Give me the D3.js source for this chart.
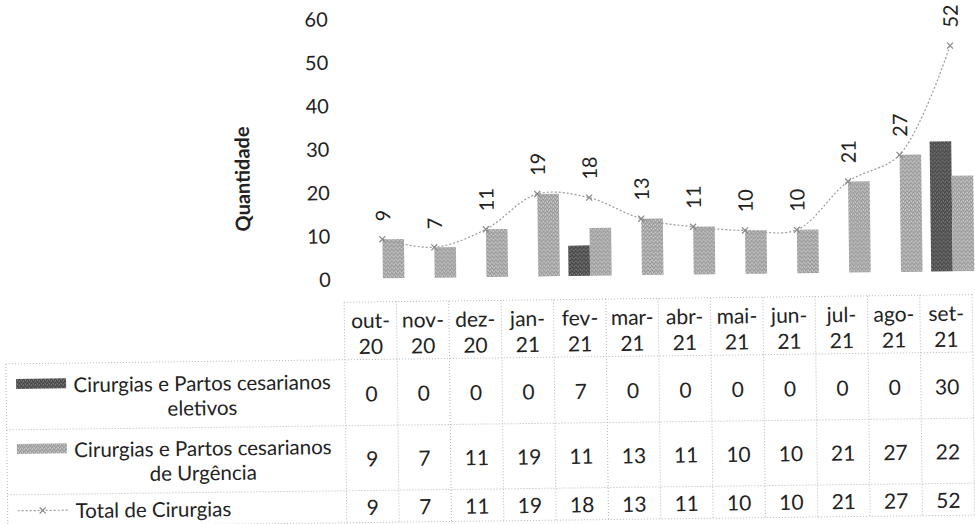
<!DOCTYPE html>
<html lang="pt">
<head>
<meta charset="utf-8">
<script src="https://d3js.org/d3.v7.min.js"></script>
<style>
  body { margin: 0; background: #fff; }
  svg text { font-family: Lato, "Noto Sans", sans-serif; fill: #222; }
</style>
</head>
<body>
<script>
// data
const months   = ["out-20", "nov-20", "dez-20", "jan-21", "fev-21", "mar-21",
                  "abr-21", "mai-21", "jun-21", "jul-21", "ago-21", "set-21"];
const eletivos = [0, 0, 0, 0, 7, 0, 0, 0, 0, 0, 0, 30];
const urgencia = [9, 7, 11, 19, 11, 13, 11, 10, 10, 21, 27, 22];
const total    = [9, 7, 11, 19, 18, 13, 11, 10, 10, 21, 27, 52];
const seriesLabels = [
  ["Cirurgias e Partos cesarianos", "eletivos"],
  ["Cirurgias e Partos cesarianos", "de Urgência"],
  ["Total de Cirurgias"]
];
const yTicks = [0, 10, 20, 30, 40, 50, 60];
const yTitle = "Quantidade";

const W = 975, H = 524;
const fs = 21;

const svg = d3.select("body").append("svg")
  .attr("width", W).attr("height", H);

// textures like the scanned bars
const defs = svg.append("defs");
function pattern(id, base, dark, light) {
  const p = defs.append("pattern").attr("id", id)
    .attr("width", 4).attr("height", 4).attr("patternUnits", "userSpaceOnUse");
  p.append("rect").attr("width", 4).attr("height", 4).attr("fill", base);
  [[0, 0], [2, 1], [1, 2], [3, 3]].forEach(function(d) {
    p.append("rect").attr("x", d[0]).attr("y", d[1]).attr("width", 1).attr("height", 1).attr("fill", dark);
  });
  [[2, 3], [0, 2]].forEach(function(d) {
    p.append("rect").attr("x", d[0]).attr("y", d[1]).attr("width", 1).attr("height", 1).attr("fill", light);
  });
}
pattern("pElet", "#5e5e5e", "#333", "#8a8a8a");
pattern("pUrg", "#b0b0b0", "#8a8a8a", "#d8d8d8");
const fills = ["url(#pElet)", "url(#pUrg)"];

// the scan is slightly tilted
const g = svg.append("g").attr("transform", "rotate(-0.7, 488, 290)");

// scales
const x = d3.scaleBand().domain(months).range([357.1, 978.9]).padding(0);
const xSub = d3.scaleBand().domain([0, 1]).range([0, x.bandwidth()]).paddingOuter(0.2);
const y = d3.scaleLinear().domain([0, 60]).range([277, 16.6]);
const xT = d3.scaleBand().domain(months).range([344, 972]);

// y axis labels
g.append("g").selectAll("text").data(yTicks).join("text")
  .attr("x", 331).attr("y", d => y(d))
  .attr("text-anchor", "end").attr("dominant-baseline", "central")
  .style("font-size", "20px")
  .text(d => d);

g.append("text")
  .attr("transform", "translate(243,176) rotate(-90)")
  .attr("text-anchor", "middle").attr("dominant-baseline", "central")
  .style("font-size", "20px").style("font-weight", "bold")
  .text(yTitle);

// bars
const barData = [];
months.forEach(function(m, i) {
  barData.push({m: m, s: 0, v: eletivos[i]});
  barData.push({m: m, s: 1, v: urgencia[i]});
});
g.append("g").selectAll("rect").data(barData.filter(d => d.v > 0)).join("rect")
  .attr("x", d => x(d.m) + xSub(d.s))
  .attr("y", d => y(d.v))
  .attr("width", xSub.bandwidth())
  .attr("height", d => y(0) - y(d.v))
  .attr("fill", d => fills[d.s]);

// total line
const cx = m => x(m) + x.bandwidth() / 2;
const line = d3.line()
  .x((d, i) => cx(months[i]))
  .y(d => y(d))
  .curve(d3.curveCatmullRom.alpha(0.5));
g.append("path").datum(total)
  .attr("d", line)
  .attr("fill", "none").attr("stroke", "#9a9a9a")
  .attr("stroke-width", 1.2).attr("stroke-dasharray", "2,2");

function cross(sel, px, py) {
  sel.append("path")
    .attr("d", `M${px-3},${py-3}L${px+3},${py+3}M${px-3},${py+3}L${px+3},${py-3}`)
    .attr("stroke", "#888").attr("stroke-width", 1.2);
}
const marks = g.append("g");
total.forEach((v, i) => cross(marks, cx(months[i]), y(v)));

// rotated value labels
g.append("g").selectAll("text").data(total).join("text")
  .attr("transform", (d, i) => `translate(${cx(months[i])},${y(d) - 18}) rotate(-90)`)
  .attr("dominant-baseline", "central")
  .style("font-size", "20px")
  .text(d => d);

// data table
const rowTop = [300.5, 358, 424, 489, 521];
const grid = g.append("g").attr("stroke", "#b5b5b5").attr("stroke-width", 1)
  .attr("stroke-dasharray", "1,2").attr("fill", "none");
grid.append("line").attr("x1", 344).attr("x2", 972).attr("y1", rowTop[0]).attr("y2", rowTop[0]);
rowTop.slice(1).forEach(function(ry) {
  grid.append("line").attr("x1", 5).attr("x2", 972).attr("y1", ry).attr("y2", ry);
});
months.forEach(function(m) {
  grid.append("line").attr("x1", xT(m)).attr("x2", xT(m)).attr("y1", rowTop[0]).attr("y2", rowTop[4]);
});
grid.append("line").attr("x1", 972).attr("x2", 972).attr("y1", rowTop[0]).attr("y2", rowTop[4]);
grid.append("line").attr("x1", 5).attr("x2", 5).attr("y1", rowTop[1]).attr("y2", rowTop[4]);

const tx = m => xT(m) + xT.bandwidth() / 2;
const head = g.append("g").style("font-size", fs + "px").attr("text-anchor", "middle");
months.forEach(function(m) {
  const parts = m.split("-");
  head.append("text").attr("x", tx(m)).attr("y", 318).attr("dominant-baseline", "central").text(parts[0] + "-");
  head.append("text").attr("x", tx(m)).attr("y", 344).attr("dominant-baseline", "central").text(parts[1]);
});

const rows = [eletivos, urgencia, total];
const rowMid = [391.5, 456.5, 505];
rows.forEach(function(vals, r) {
  g.append("g").selectAll("text").data(vals).join("text")
    .attr("x", (d, i) => tx(months[i]))
    .attr("y", rowMid[r])
    .attr("text-anchor", "middle").attr("dominant-baseline", "central")
    .style("font-size", fs + "px")
    .text(d => d);
});

// row labels with legend keys
const lfs = 20.5;
[0, 1].forEach(function(r) {
  const l1 = rowMid[r] - 12.3, l2 = rowMid[r] + 12.3;
  g.append("rect").attr("x", 15).attr("y", l1 - 6).attr("width", 50).attr("height", 10)
    .attr("fill", fills[r]);
  g.append("text").attr("x", 201).attr("y", l1).attr("text-anchor", "middle")
    .attr("dominant-baseline", "central").style("font-size", lfs + "px").text(seriesLabels[r][0]);
  g.append("text").attr("x", 201).attr("y", l2).attr("text-anchor", "middle")
    .attr("dominant-baseline", "central").style("font-size", lfs + "px").text(seriesLabels[r][1]);
});
g.append("line").attr("x1", 15).attr("x2", 65).attr("y1", rowMid[2]).attr("y2", rowMid[2])
  .attr("stroke", "#9a9a9a").attr("stroke-width", 1.2).attr("stroke-dasharray", "2,2");
cross(g, 40, rowMid[2]);
g.append("text").attr("x", 73).attr("y", rowMid[2]).attr("dominant-baseline", "central")
  .style("font-size", lfs + "px").text(seriesLabels[2][0]);
</script>
</body>
</html>
